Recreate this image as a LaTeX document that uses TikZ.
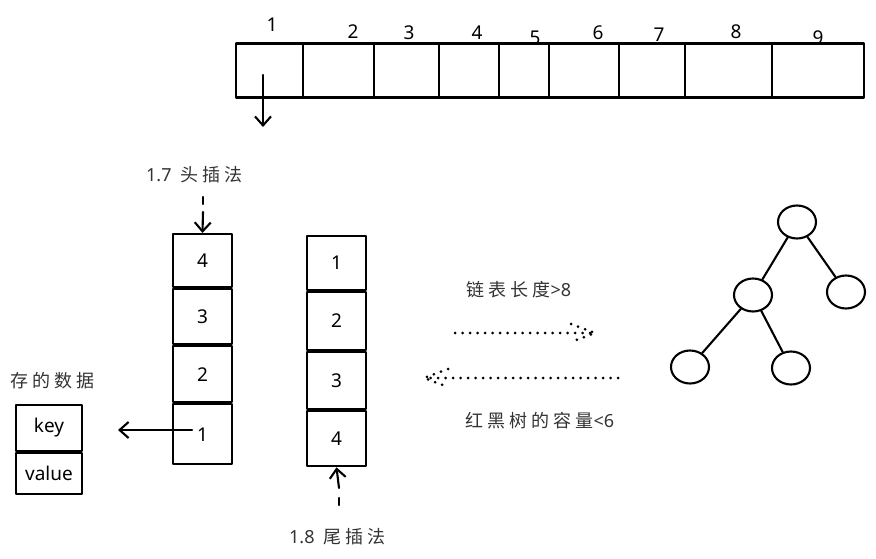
\documentclass[tikz,border=0pt]{standalone}
\usepackage{fontspec}
\setmainfont{Noto Sans}
\newfontfamily\cjk[LetterSpace=22]{Noto Sans CJK SC}
\usetikzlibrary{arrows.meta,calc,shapes.geometric}
\begin{document}
\begin{tikzpicture}[x=1pt,y=-1pt,
  ink/.style={line width=2.1pt, line join=round, line cap=round},
  cellbox/.style={draw, ink, minimum width=#1, inner sep=0pt, font=\fontsize{19}{19}\selectfont},
  num/.style={font=\fontsize{19}{19}\selectfont, inner sep=0pt},
  lbl/.style={font=\fontsize{18}{18}\selectfont\cjk, text=black!80, inner sep=0pt},
  tnode/.style={draw, ink, ellipse, minimum width=38pt, minimum height=33pt, inner sep=0pt},
  barb/.style={-{Straight Barb[length=9pt,width=16pt,line width=2.1pt]}, ink},
  dotline/.style={line width=3pt, dash pattern=on 0pt off 7.5pt, line cap=round},
  dashline/.style={ink, dash pattern=on 7pt off 9pt}
]
\useasboundingbox (0,0) rectangle (876,559);

% ---- top array ----
\foreach \a/\b/\n in {236/303/c1,303/374/c2,374/439/c3,439/499/c4,499/549/c5,549/619/c6,619/685/c7,685/772/c8,772/864/c9}{
  \node[cellbox=\b-\a, minimum height=54pt] (\n) at ({(\a+\b)/2},70.5) {};
}
\foreach \x/\y/\t in {272/25/1,353/32/2,409/33/3,477/33/4,535/38/5,598/33/6,659/35/7,736/32/8,818/38/9}{
  \node[num] (top\t) at (\x,\y) {\t};
}
\coordinate (adown) at (263,127);
\draw[barb] (263,75) -- (adown);

% ---- left column (head insert) ----
\node[lbl, anchor=west] (lab17) at (146,175) {\fontspec{Noto Sans}1.7\hspace{9pt}\cjk 头插法};
\node[cellbox=59pt, minimum height=53pt] (l4) at (202.5,260.5) {4};
\node[cellbox=59pt, minimum height=55pt, anchor=north] (l3) at (l4.south) {3};
\node[cellbox=59pt, minimum height=56pt, anchor=north] (l2) at (l3.south) {2};
\node[cellbox=59pt, minimum height=60pt, anchor=north] (l1) at (l2.south) {1};
\coordinate (h17) at (203,197);
\draw[dashline] (h17) -- (203,205);
\draw[barb] (203,212) -- (l4.north);

% ---- right column (tail insert) ----
\node[cellbox=59pt, minimum height=54pt] (r1) at (336.5,263) {1};
\node[cellbox=59pt, minimum height=58pt, anchor=north] (r2) at (r1.south) {2};
\node[cellbox=59pt, minimum height=57pt, anchor=north] (r3) at (r2.south) {3};
\node[cellbox=59pt, minimum height=55pt, anchor=north] (r4) at (r3.south) {4};
\coordinate (t18) at (339,505);
\draw[dashline] (t18) -- (339,496);
\draw[barb] (339,488) -- (r4.south);
\node[lbl, anchor=west] (lab18) at (289,537) {\fontspec{Noto Sans}1.8\hspace{9pt}\cjk 尾插法};

% ---- key/value ----
\node[lbl, anchor=west] (store) at (10,381) {存的数据};
\node[cellbox=66pt, minimum height=46pt] (key) at (49,428) {key};
\node[cellbox=66pt, minimum height=41pt, anchor=north] (val) at (key.south) {value};
\coordinate (kvs) at (192,430);
\coordinate (kve) at (118,430);
\draw[barb] (kvs) -- (kve);

% ---- dotted arrows ----
\coordinate (d1s) at (455,333);
\coordinate (d1e) at (595,333);
\draw[dotline] (d1s) -- (d1e);
\draw[dotline] ($(d1e)+(-24,-9)$) -- (d1e) -- ($(d1e)+(-24,9)$);
\node[lbl] (lab8) at (519,290) {链表长度\fontspec{Noto Sans}>8};

\coordinate (d2s) at (618,378);
\coordinate (d2e) at (424,378);
\draw[dotline] (d2s) -- (d2e);
\draw[dotline] ($(d2e)+(24,-9)$) -- (d2e) -- ($(d2e)+(24,9)$);
\node[lbl] (lab6) at (540,421) {红黑树的容量\fontspec{Noto Sans}<6};

% ---- tree ----
\node[tnode] (root) at (797,222) {};
\node[tnode] (mid) at (753,295) {};
\node[tnode] (rgt) at (846,292) {};
\node[tnode] (bl) at (690,367) {};
\node[tnode] (br) at (791,368) {};
\draw[ink] (root) -- (mid);
\draw[ink] (root) -- (rgt);
\draw[ink] (mid) -- (bl);
\draw[ink] (mid) -- (br);
\end{tikzpicture}
\end{document}
